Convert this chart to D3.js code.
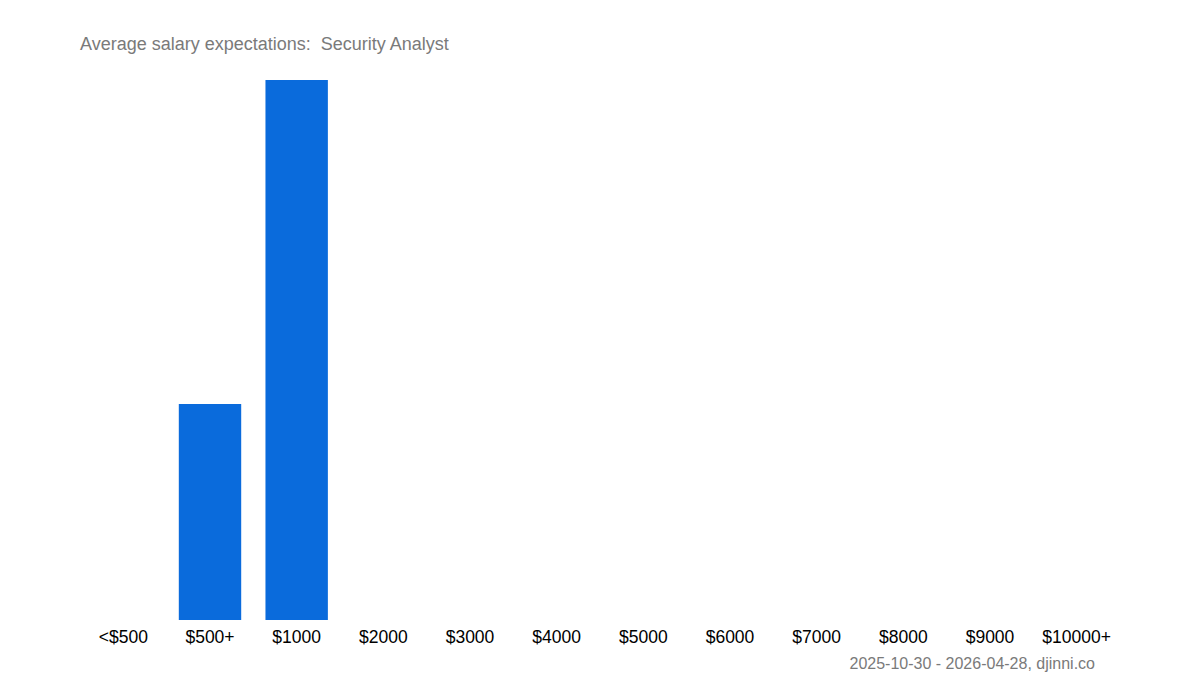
<!DOCTYPE html>
<html>
<head>
<meta charset="utf-8">
<script src="https://cdn.jsdelivr.net/npm/d3@7.9.0/dist/d3.min.js"></script>
<style>
  body { margin: 0; background: #fff; }
  svg { display: block; font-family: "Liberation Sans", Arial, sans-serif; }
</style>
</head>
<body>
<svg id="chart" width="1200" height="700"></svg>
<script>
  // ===== data =====
  const categories = ['<$500', '$500+', '$1000', '$2000', '$3000', '$4000',
                      '$5000', '$6000', '$7000', '$8000', '$9000', '$10000+'];
  const counts     = [0, 2, 5, 0, 0, 0, 0, 0, 0, 0, 0, 0];
  const title      = 'Average salary expectations:\u00a0 Security Analyst';
  const footer     = '2025-10-30 - 2026-04-28, djinni.co';

  const data = categories.map((label, i) => ({ label, value: counts[i] }));

  const svg = d3.select('#chart');
  const margin = { left: 80, right: 80, top: 80, bottom: 80 };
  const W = 1200, H = 700;

  const x = d3.scaleBand()
    .domain(categories)
    .range([margin.left, W - margin.right])
    .paddingInner(0.28)
    .paddingOuter(0.14);

  const y = d3.scaleLinear()
    .domain([0, d3.max(counts)])
    .range([H - margin.bottom, margin.top]);

  // bars
  svg.append('g')
    .selectAll('rect')
    .data(data.filter(d => d.value > 0))
    .join('rect')
      .attr('x', d => x(d.label))
      .attr('y', d => y(d.value))
      .attr('width', x.bandwidth())
      .attr('height', d => y(0) - y(d.value))
      .attr('fill', '#0a6bdc');

  // category axis, no line or ticks
  const xAxis = svg.append('g')
    .attr('transform', `translate(0,${y(0)})`)
    .call(d3.axisBottom(x).tickSize(0).tickPadding(0));
  xAxis.select('.domain').remove();
  xAxis.selectAll('text')
    .attr('dy', null)
    .attr('y', 23)
    .attr('fill', '#000')
    .style('font-size', '17.5px')
    .style('font-family', '"Liberation Sans", Arial, sans-serif');

  // title
  svg.append('text')
    .attr('x', 80)
    .attr('y', 50)
    .attr('fill', '#7a7a7a')
    .style('font-size', '18px')
    .text(title);

  // footer
  svg.append('text')
    .attr('x', 1095)
    .attr('y', 669)
    .attr('text-anchor', 'end')
    .attr('fill', '#7a7a7a')
    .style('font-size', '16px')
    .text(footer);
</script>
</body>
</html>
